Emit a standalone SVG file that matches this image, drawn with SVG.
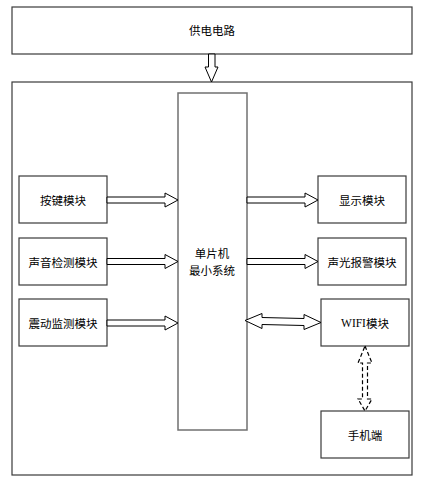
<svg xmlns="http://www.w3.org/2000/svg" width="426" height="486" viewBox="0 0 426 486">
<style>
.box{fill:#fff;stroke:#3a3a3a;stroke-width:1.2}
.mcu{fill:#fff;stroke:#707070;stroke-width:1.5}
.lbl{font-family:"Noto Sans CJK SC","Noto Sans CJK JP",sans-serif;font-size:11.5px;fill:#000;text-anchor:middle;dominant-baseline:central}
.arr{fill:#fff;stroke:#000;stroke-width:1}
.dash{fill:none;stroke:#000;stroke-width:1.2;stroke-dasharray:4,2.5}
</style>
<rect width="426" height="486" fill="#fff"/>
<g id="power"><rect class="box" x="12" y="7" width="400" height="47"/><text class="lbl" x="212" y="30">供电电路</text></g>
<g id="outer"><rect class="box" x="12" y="82" width="400" height="393"/></g>
<g id="mcu"><rect class="mcu" x="178" y="93" width="69" height="337"/><text class="lbl" x="212" y="253">单片机</text><text class="lbl" x="212" y="270">最小系统</text></g>
<g id="key"><rect class="box" x="19" y="176" width="88" height="47"/><text class="lbl" x="63" y="200">按键模块</text></g>
<g id="sound"><rect class="box" x="19" y="238" width="88" height="47"/><text class="lbl" x="63" y="262">声音检测模块</text></g>
<g id="vibe"><rect class="box" x="19" y="299" width="88" height="47"/><text class="lbl" x="63" y="323">震动监测模块</text></g>
<g id="display"><rect class="box" x="318" y="176" width="88" height="47"/><text class="lbl" x="362" y="200">显示模块</text></g>
<g id="alarm"><rect class="box" x="318" y="238" width="88" height="47"/><text class="lbl" x="362" y="262">声光报警模块</text></g>
<g id="wifi"><rect class="box" x="321" y="299" width="88" height="47"/><text class="lbl" x="365" y="323"><tspan font-family="Liberation Serif,serif">WIFI</tspan>模块</text></g>
<g id="phone"><rect class="box" x="321" y="411" width="88" height="47"/><text class="lbl" x="365" y="435">手机端</text></g>
<g id="connectors">
<polygon class="arr" points="208.5,54 215,54 215,67 218,67 211.5,82 205,67 208.5,67"/>
<polygon class="arr" points="107,197 165,197 165,193 178,200 165,207 165,203 107,203"/>
<polygon class="arr" points="107,258.5 165,258.5 165,254.5 178,261.5 165,268.5 165,264.5 107,264.5"/>
<polygon class="arr" points="107,320 165,320 165,316 178,323 165,330 165,326 107,326"/>
<polygon class="arr" points="247,197 305,197 305,193 318,200 305,207 305,203 247,203"/>
<polygon class="arr" points="247,258.5 305,258.5 305,254.5 318,261.5 305,268.5 305,264.5 247,264.5"/>
<polygon class="arr" points="245,320.5 262,313.5 262,317.5 304,318.5 304,314.5 321,322.5 304,329.5 304,325.5 262,324.5 262,328.5"/>
<polygon class="dash" points="365,346 372,363 367.5,363 367.5,399 372,399 365,411 358,399 362.5,399 362.5,363 358,363"/>
</g>
</svg>
